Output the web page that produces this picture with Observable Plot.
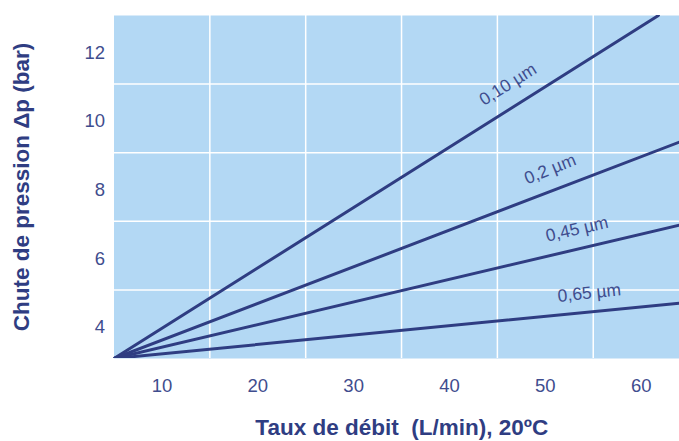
<!DOCTYPE html>
<html><head><meta charset="utf-8">
<script src="https://cdn.jsdelivr.net/npm/d3@7"></script>
<script src="https://cdn.jsdelivr.net/npm/@observablehq/plot@0.6"></script>
<style>
body{margin:0;background:#fff;}
#chart svg{display:block;}
</style>
</head><body><div id="chart"></div>
<script>
const series = ["0,10 µm", "0,2 µm", "0,45 µm", "0,65 µm"];
const startX = [5, 5, 5, 5];
const startY = [3, 3, 3, 3];
const endX = [61.8, 64, 64, 64];
const endY = [13, 9.31, 6.89, 4.61];
const labelX = [46.1, 50.5, 53.3, 54.6];
const labelY = [10.99, 8.52, 6.77, 4.91];
const labelAngle = [-32, -22, -13, -6];
const xTicks = [10, 20, 30, 40, 50, 60];
const yTicks = [4, 6, 8, 10, 12];
const xGrid = [15, 25, 35, 45, 55];
const yGrid = [5, 7, 9, 11];
const xTitle = "Taux de débit  (L/min), 20ºC";
const yTitle = "Chute de pression Δp (bar)";

const lineRows = series.flatMap((s, i) => [
  {s, x: startX[i], y: startY[i]},
  {s, x: endX[i], y: endY[i]}
]);
const labelRows = series.map((s, i) => ({s, x: labelX[i], y: labelY[i], r: labelAngle[i]}));

const navy = "#2f3d82";
const textC = "#3f4d8e";
const font = "'Liberation Sans', Arial, sans-serif";

const chart = Plot.plot({
  width: 679,
  height: 441,
  marginLeft: 113.5,
  marginRight: 0,
  marginTop: 15,
  marginBottom: 83,
  style: {fontFamily: font, color: textC, background: "#fff"},
  x: {domain: [5, 64]},
  y: {domain: [3, 13]},
  marks: [
    Plot.frame({fill: "#b3d8f4", stroke: null}),
    Plot.ruleX(xGrid, {stroke: "#fff", strokeWidth: 1.5}),
    Plot.ruleY(yGrid, {stroke: "#fff", strokeWidth: 1.5}),
    Plot.line(lineRows, {x: "x", y: "y", z: "s", stroke: navy, strokeWidth: 3, clip: true}),
    Plot.text(labelRows, {x: "x", y: "y", text: "s", rotate: (d) => d.r, fill: textC, fontSize: 17.5, fontFamily: font}),
    Plot.axisX(xTicks, {tickSize: 0, tickPadding: 20, fontSize: 18.5, label: null, fill: textC}),
    Plot.axisY(yTicks, {tickSize: 0, tickPadding: 9, fontSize: 18.5, label: null, fill: textC, dy: 3}),
    Plot.text([xTitle], {frameAnchor: "bottom", dy: 76, dx: 5, fontSize: 22.5, fontWeight: "bold", fill: navy, fontFamily: font}),
    Plot.text([yTitle], {frameAnchor: "left", textAnchor: "middle", dx: -92, rotate: -90, fontSize: 22.5, fontWeight: "bold", fill: navy, fontFamily: font})
  ]
});
document.getElementById("chart").appendChild(chart);
</script>
</body></html>
